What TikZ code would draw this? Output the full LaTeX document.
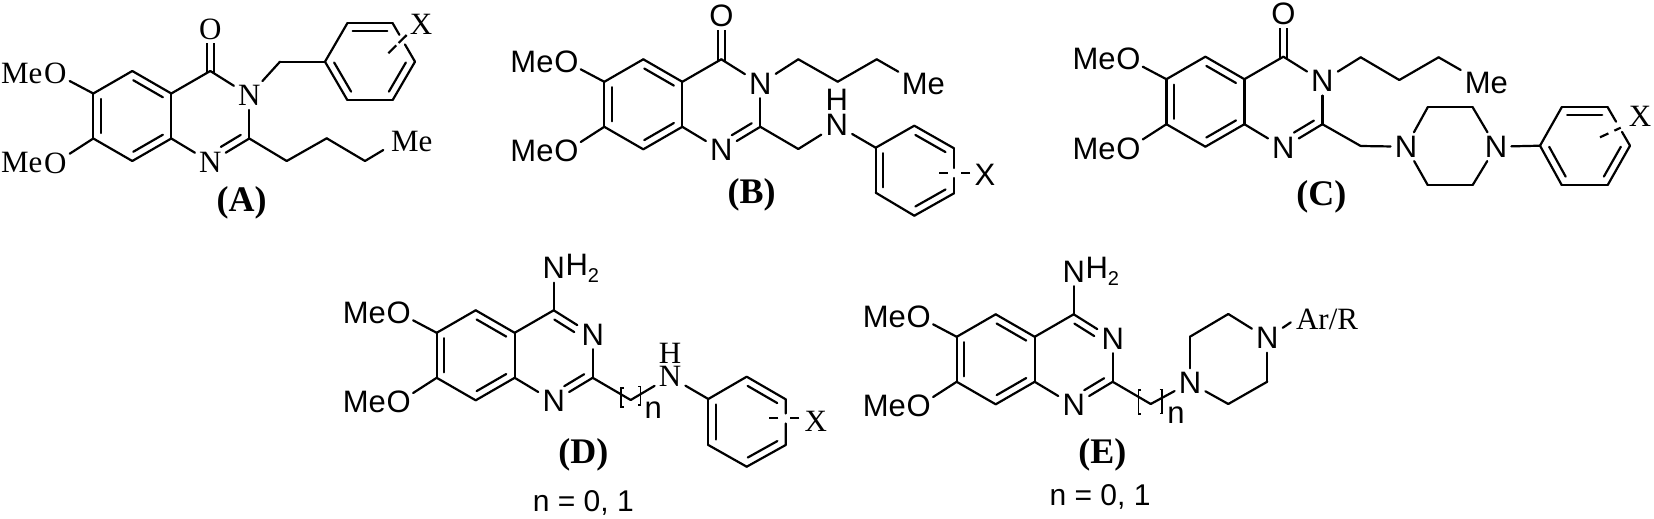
\documentclass[tikz,border=0pt]{standalone}
\usepackage{fontspec}
\setmainfont{Liberation Serif}
\setsansfont{Liberation Sans}
\usetikzlibrary{calc,positioning}
\tikzset{
  bond/.style={line width=1.1pt, line cap=round},
  carbonyl/.style={double, double distance=2.2pt, line width=1.1pt, shorten >=-1pt},
  stub/.style={line width=1.1pt, dash pattern=#1},
  brack/.style={line width=.7pt},
  rm/.style={font=\rmfamily\fontsize{15.5}{18}\selectfont},
  atomfont/.style={font=\sffamily\fontsize{15.5}{18}\selectfont},
  atom/.style={atomfont, inner sep=0pt, minimum width=15pt, minimum height=14pt},
  oxy/.style={atomfont, inner sep=0pt, minimum width=14pt, minimum height=13pt},
  lbl/.style={atomfont, inner sep=0pt},
  tag/.style={inner sep=0pt, font=\rmfamily\bfseries\fontsize{18}{20}\selectfont},
  note/.style={inner sep=0pt, font=\sffamily\fontsize{15}{18}\selectfont}
}
\newcommand{\subtwo}{\raisebox{-3.6pt}{\fontsize{10}{10}\selectfont 2}}
\newcommand{\innerbond}[4]{
  \draw[bond] ($(#1)!#3!(#2)!3.75pt!90:(#2)$) -- ($(#1)!#4!(#2)!3.75pt!90:(#2)$);
}
\newcommand{\quinazcore}[3]{
  \begin{scope}[shift={(#2,#3)}]
    \foreach \p/\x/\y in {c5/0/0, c4a/39/22.5, c8a/39/67.5, c8/0/90, c7/-39/67.5, c6/-39/22.5, c4/78/0, c2/117/67.5}
      \coordinate (#1\p) at (\x,\y);
    \node[atom] (#1na) at (78,91) {N};
    \node[atom] (#1nb) at (117,24.5) {N};
    \node[oxy] (#1oa) at (-77,2.4) {O};
    \node[oxy] (#1ob) at (-77,92) {O};
    \node[lbl, left=-1pt of #1oa] (#1mea) {Me};
    \node[lbl, left=-1pt of #1ob] (#1meb) {Me};
  \end{scope}
}
\newcommand{\quinazbonds}[1]{
  \foreach \u/\v in {c5/c6, c6/c7, c7/c8, c8/c8a, c8a/c4a, c4a/c5, c4a/c4, c8a/na, na/c2, c2/nb, nb/c4, c6/oa, c7/ob}
    \draw[bond] (#1\u) -- (#1\v);
  \innerbond{#1c6}{#1c7}{.12}{.88}
  \innerbond{#1c8}{#1c8a}{.12}{.88}
  \innerbond{#1c4a}{#1c5}{.12}{.88}
  \innerbond{#1na}{#1c2}{.37}{.88}
}
\newcommand{\arylring}[3]{
  \foreach \u/\v in {r1/r2, r2/r3, r3/r4, r5/r6, r6/r1}
    \draw[bond] (#1\u) -- (#1\v);
  \draw[bond] (#1r4) -- ($(#1r4)!#2!(#1r5)$) ($(#1r4)!#3!(#1r5)$) -- (#1r5);
  \innerbond{#1r1}{#1r2}{.12}{.88}
  \innerbond{#1r3}{#1r4}{.12}{.88}
  \innerbond{#1r5}{#1r6}{.12}{.88}
}
\begin{document}
\begin{tikzpicture}[x=.5pt, y=-.5pt]
  \useasboundingbox (0,0) rectangle (1654,519);
  \begin{scope}[atomfont/.style={rm}]
    \quinazcore{a}{132.3}{71}
    \node[atom] (ao) at (210.3,29) {O};
    \draw[carbonyl] (ao) -- (ac4);
    \quinazbonds{a}
    \foreach \p/\x/\y in {ch/280/61.7, r1/325/61.7, r2/347.3/100, r3/392.7/100, r4/415/61.7, r5/392.7/23.3, r6/347.3/23.3, b1/286.7/161, b2/326.7/138.3, b3/365/161, eme/383.3/150, sa/406.7/35, sb/388.3/53.3}
      \coordinate (a\p) at (\x,\y);
    \node[lbl] (ax) at (421,24) {X};
    \node[lbl] (ame) at (411.7,141.7) {Me};
    \draw[bond] (anb) -- (ach);
    \draw[bond] (ach) -- (ar1);
    \draw[bond] (ac2) -- (ab1);
    \draw[bond] (ab1) -- (ab2);
    \draw[bond] (ab2) -- (ab3);
    \draw[bond] (ab3) -- (aeme);
    \arylring{a}{.45}{.70}
    \draw[stub={on 5.65pt off 1.7pt on 10pt}] (asa) -- (asb);
  \end{scope}
  \node[tag] (ta) at (241.7,203) {(A)};

  \quinazcore{b}{643.3}{59.3}
  \node[atom] (bo) at (721.3,16) {O};
  \draw[carbonyl] (bo) -- (bc4);
  \quinazbonds{b}
  \foreach \p/\x/\y in {ch/798.3/149, r1/875.7/147.7, r2/875.7/192.7, r3/914.3/215.7, r4/954/193.3, r5/954/148.3, r6/914.3/125.7, b1/798.3/59.3, b2/837.7/81.7, b3/876.7/59.3, eme/898.3/71.7, sa/970/173.3, sb/939.3/173.3}
    \coordinate (b\p) at (\x,\y);
  \node[atom] (bn) at (836.7,125) {N};
  \node[lbl] (bh) at (836.7,100) {H};
  \node[lbl] (bx) at (985,175) {X};
  \node[lbl] (bme) at (923.3,84) {Me};
  \draw[bond] (bnb) -- (bb1);
  \draw[bond] (bb1) -- (bb2);
  \draw[bond] (bb2) -- (bb3);
  \draw[bond] (bb3) -- (beme);
  \draw[bond] (bc2) -- (bch);
  \draw[bond] (bch) -- (bn);
  \draw[bond] (bn) -- (br1);
  \arylring{b}{.34}{.56}
  \draw[stub={on 4.65pt off 6.5pt on 10pt}] (bsa) -- (bsb);
  \node[tag] (tb) at (751.7,195) {(B)};

  \quinazcore{c}{1205.4}{56.7}
  \node[atom] (co) at (1283.4,14) {O};
  \draw[carbonyl] (co) -- (cc4);
  \quinazbonds{c}
  \foreach \p/\x/\y in {ch/1360.7/146, r1/1540/145.7, r2/1561.7/185, r3/1607.7/185, r4/1630/145.7, r5/1607.7/107.3, r6/1561.7/107.3, b1/1360.7/57.3, b2/1399.3/80, b3/1438.6/57.3, eme/1460.7/70, pa/1427.7/107.3, pb/1472.7/107.3, pc/1472.7/185, pd/1427.7/185, sa/1620.7/127.7, sb/1600/137.3}
    \coordinate (c\p) at (\x,\y);
  \node[atom] (cnl) at (1406,146.7) {N};
  \node[atom] (cnr) at (1496,146.7) {N};
  \node[lbl, rm] (cx) at (1640,116.7) {X};
  \node[lbl] (cme) at (1486.4,82.7) {Me};
  \draw[bond] (cnb) -- (cb1);
  \draw[bond] (cb1) -- (cb2);
  \draw[bond] (cb2) -- (cb3);
  \draw[bond] (cb3) -- (ceme);
  \draw[bond] (cc2) -- (cch);
  \draw[bond] (cch) -- (cnl);
  \draw[bond] (cnl) -- (cpa);
  \draw[bond] (cpa) -- (cpb);
  \draw[bond] (cpb) -- (cnr);
  \draw[bond] (cnr) -- (cpc);
  \draw[bond] (cpc) -- (cpd);
  \draw[bond] (cpd) -- (cnl);
  \draw[bond] (cnr) -- (cr1);
  \arylring{c}{.36}{.625}
  \draw[stub={on 3.5pt off 3.3pt on 10pt}] (csa) -- (csb);
  \node[tag] (tc) at (1321.4,197) {(C)};

  \quinazcore{d}{475.7}{310.3}
  \node[atom] (dnh) at (553.7,268.3) {N};
  \node[lbl, right=-2pt of dnh] (dhh) {H\subtwo};
  \quinazbonds{d}
  \innerbond{dnb}{dc4}{.37}{.88}
  \foreach \p/\x/\y in {ch/630.7/400, r1/708.3/399, r2/708.3/445, r3/746.7/466.7, r4/785.7/445, r5/785.7/399.3, r6/746.7/376.7, sa/799.3/418.3, sb/769.3/418.3}
    \coordinate (d\p) at (\x,\y);
  \node[atom, rm] (dn) at (670,376.7) {N};
  \node[lbl, rm] (dh) at (670,353.3) {H};
  \node[lbl, rm] (dx) at (815.7,421.7) {X};
  \node[lbl] (dnn) at (653.3,410) {n};
  \draw[bond] (dnh) -- (dc4);
  \draw[bond] (dc2) -- (dch);
  \draw[bond] (dch) -- (dn);
  \draw[bond] (dn) -- (dr1);
  \draw[brack] (623.5,388) -- (621,388) -- (621,407) -- (623.5,407);
  \draw[brack] (638,386.5) -- (640.7,386.5) -- (640.7,405) -- (638,405);
  \arylring{d}{.47}{.69}
  \draw[stub={on 4.65pt off 5.85pt on 10pt}] (dsa) -- (dsb);
  \node[tag] (td) at (583.3,455) {(D)};
  \node[note] (nd) at (583.3,503) {n = 0, 1};

  \quinazcore{e}{995.7}{314.3}
  \node[atom] (enh) at (1073.7,271.7) {N};
  \node[lbl, right=-2pt of enh] (ehh) {H\subtwo};
  \quinazbonds{e}
  \innerbond{enb}{ec4}{.37}{.88}
  \foreach \p/\x/\y in {ch/1150.7/404, pa/1190/336.7, pb/1228.3/314, pc/1267.3/381.7, pd/1228.3/404}
    \coordinate (e\p) at (\x,\y);
  \node[atom] (enl) at (1190,382.7) {N};
  \node[atom] (enr) at (1267.3,338.3) {N};
  \node[lbl, rm, anchor=west] (ear) at (1295.7,319) {Ar/R};
  \node[lbl] (enn) at (1176,415) {n};
  \draw[bond] (enh) -- (ec4);
  \draw[bond] (ec2) -- (ech);
  \draw[bond] (ech) -- (enl);
  \draw[bond] (enl) -- (epa);
  \draw[bond] (epa) -- (epb);
  \draw[bond] (epb) -- (enr);
  \draw[bond] (enr) -- (epc);
  \draw[bond] (epc) -- (epd);
  \draw[bond] (epd) -- (enl);
  \draw[bond, shorten >=3pt] (enr) -- (ear.west);
  \draw[brack] (1141.2,390) -- (1138.7,390) -- (1138.7,414) -- (1141.2,414);
  \draw[brack] (1159.5,389.5) -- (1162,389.5) -- (1162,413.5) -- (1159.5,413.5);
  \node[tag] (te) at (1102.3,455) {(E)};
  \node[note] (ne) at (1100,496.7) {n = 0, 1};
\end{tikzpicture}
\end{document}
